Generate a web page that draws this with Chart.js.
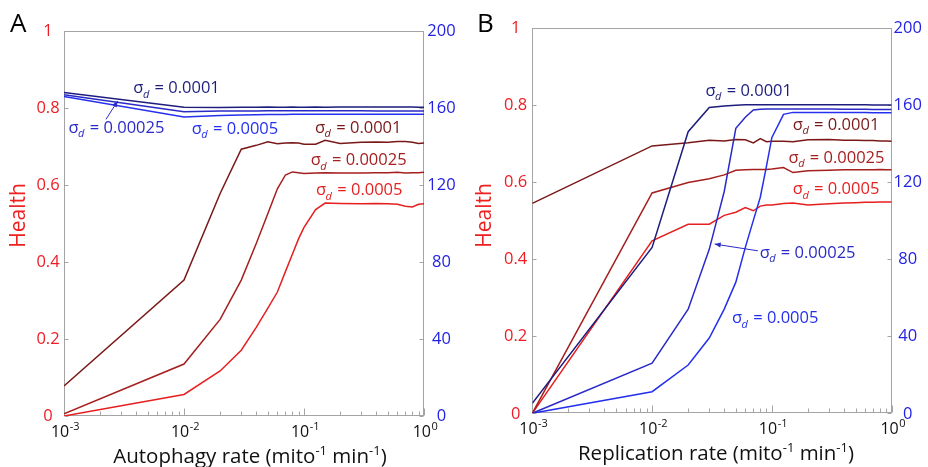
<!DOCTYPE html>
<html>
<head>
<meta charset="utf-8">
<script src="https://cdn.jsdelivr.net/npm/chart.js@4.4.1/dist/chart.umd.min.js"></script>
<style>
  html, body { margin: 0; padding: 0; background: #fff; }
  #wrap { position: relative; width: 928px; height: 467px; overflow: hidden; }
  .panel { position: absolute; top: 0; width: 464px; height: 467px; }
</style>
</head>
<body>
<div id="wrap">
  <div class="panel" style="left:0"><canvas id="panelA" width="464" height="467"></canvas></div>
  <div class="panel" style="left:464px"><canvas id="panelB" width="464" height="467"></canvas></div>
</div>
<script>
// Rates sampled along the x axis (mito^-1 min^-1)
const rates = [0.001, 0.01, 0.02, 0.03, 0.04, 0.05, 0.06, 0.07, 0.08, 0.09, 0.1,
               0.125, 0.15, 0.2, 0.3, 0.4, 0.5, 0.6, 0.7, 0.8, 0.9, 1.0];

// Panel A: health vs autophagy rate
const healthAuto_1e4  = [0.078, 0.353, 0.578, 0.693, 0.703, 0.712, 0.707, 0.709, 0.710, 0.709, 0.706,
                         0.706, 0.716, 0.708, 0.711, 0.712, 0.711, 0.713, 0.713, 0.711, 0.708, 0.709];
const healthAuto_25e5 = [0.006, 0.135, 0.251, 0.353, 0.448, 0.526, 0.590, 0.626, 0.634, 0.632, 0.630,
                         0.631, 0.632, 0.631, 0.631, 0.632, 0.632, 0.633, 0.631, 0.632, 0.632, 0.633];
const healthAuto_5e4  = [0.000, 0.056, 0.117, 0.171, 0.230, 0.280, 0.322, 0.375, 0.420, 0.460, 0.490,
                         0.536, 0.553, 0.552, 0.551, 0.552, 0.551, 0.550, 0.545, 0.543, 0.550, 0.551];
// Panel A: mitochondria count vs autophagy rate
const mitoAuto_1e4  = [168.0, 160.4, 160.3, 160.4, 160.4, 160.5, 160.4, 160.4, 160.5, 160.4, 160.4,
                       160.5, 160.4, 160.5, 160.5, 160.5, 160.5, 160.5, 160.5, 160.5, 160.4, 160.4];
const mitoAuto_25e5 = [166.9, 158.1, 158.4, 158.5, 158.5, 158.6, 158.6, 158.6, 158.6, 158.6, 158.6,
                       158.6, 158.6, 158.6, 158.6, 158.5, 158.5, 158.5, 158.5, 158.5, 158.5, 158.5];
const mitoAuto_5e4  = [166.0, 155.3, 156.1, 156.4, 156.5, 156.6, 156.6, 156.6, 156.7, 156.7, 156.7,
                       156.7, 156.7, 156.7, 156.7, 156.7, 156.7, 156.7, 156.7, 156.7, 156.7, 156.7];

// Panel B: health vs replication rate
const healthRepl_1e4  = [0.544, 0.693, 0.701, 0.708, 0.706, 0.710, 0.709, 0.701, 0.712, 0.704, 0.705,
                         0.705, 0.704, 0.709, 0.710, 0.708, 0.708, 0.707, 0.707, 0.706, 0.706, 0.705];
const healthRepl_25e5 = [0.000, 0.571, 0.598, 0.608, 0.618, 0.630, 0.631, 0.632, 0.632, 0.632, 0.633,
                         0.637, 0.624, 0.629, 0.630, 0.631, 0.631, 0.631, 0.631, 0.632, 0.631, 0.631];
const healthRepl_5e4  = [0.000, 0.447, 0.490, 0.490, 0.513, 0.521, 0.533, 0.525, 0.537, 0.540, 0.540,
                         0.544, 0.545, 0.540, 0.543, 0.545, 0.546, 0.547, 0.547, 0.548, 0.548, 0.548];
// Panel B: mitochondria count vs replication rate
const mitoRepl_1e4  = [5.2, 86.0, 146.0, 158.5, 159.3, 159.7, 159.9, 160.0, 160.0, 160.0, 160.0,
                       160.0, 160.0, 160.0, 160.0, 160.0, 159.9, 159.9, 159.8, 159.8, 159.8, 159.8];
const mitoRepl_25e5 = [0.0, 26.0, 54.0, 85.0, 115.0, 147.7, 153.5, 157.2, 157.6, 157.8, 157.8,
                       157.8, 157.8, 157.7, 157.7, 157.6, 157.6, 157.6, 157.5, 157.5, 157.5, 157.5];
const mitoRepl_5e4  = [0.0, 11.2, 25.0, 39.0, 54.0, 68.0, 86.0, 100.0, 112.0, 128.0, 143.0,
                       155.0, 156.0, 156.0, 156.0, 155.9, 155.9, 155.9, 155.8, 155.8, 155.8, 155.8];

// Axis ticks
const healthTicks = [0, 0.2, 0.4, 0.6, 0.8, 1];
const healthTickLabels = ['0', '0.2', '0.4', '0.6', '0.8', '1'];
const mitoTicks = [0, 40, 80, 120, 160, 200];
const mitoTickLabels = ['0', '40', '80', '120', '160', '200'];
const decadeExponents = [-3, -2, -1, 0];
const decadeLabels = ['-3', '-2', '-1', '0'];

const FONT = '"Open Sans", "Noto Sans", "DejaVu Sans", sans-serif';
const COL = {
  navy: '#1d1d7e', blueMid: '#2a2ac8', blue: '#2430ee',
  darkRed: '#7a1818', redMid: '#a61f1f', red: '#e61f1f',
  tickRed: '#ee1c24', tickBlue: '#2222e4', frame: '#a4a4a4'
};

function series(values, axis, color) {
  return {
    data: rates.map((r, i) => ({ x: r, y: values[i] })),
    yAxisID: axis, borderColor: color, borderWidth: 1.5,
    pointRadius: 0, tension: 0, fill: false
  };
}

function drawSigma(ctx, x, y, value, color) {
  // y is the vertical middle of the digits
  const base = y + 6;
  ctx.fillStyle = color;
  ctx.textAlign = 'left';
  ctx.textBaseline = 'alphabetic';
  ctx.font = `16.5px ${FONT}`;
  ctx.fillText('\u03c3', x, base);
  let cx = x + ctx.measureText('\u03c3').width - 0.5;
  ctx.font = `italic 11px ${FONT}`;
  ctx.fillText('d', cx, base + 4.5);
  cx += ctx.measureText('d').width + 1;
  ctx.font = `16.5px ${FONT}`;
  ctx.fillText(' = ' + value, cx, base);
}

function drawArrow(ctx, x0, y0, x1, y1, color) {
  ctx.strokeStyle = color; ctx.fillStyle = color; ctx.lineWidth = 1;
  ctx.beginPath(); ctx.moveTo(x0, y0); ctx.lineTo(x1, y1); ctx.stroke();
  const ang = Math.atan2(y1 - y0, x1 - x0), L = 6, W = 2.6;
  ctx.beginPath();
  ctx.moveTo(x1, y1);
  ctx.lineTo(x1 - L * Math.cos(ang) + W * Math.sin(ang), y1 - L * Math.sin(ang) - W * Math.cos(ang));
  ctx.lineTo(x1 - L * Math.cos(ang) - W * Math.sin(ang), y1 - L * Math.sin(ang) + W * Math.cos(ang));
  ctx.closePath(); ctx.fill();
}

// Draws the frame, inward ticks, tick labels, titles and the sigma annotations
const decorPlugin = {
  id: 'decor',
  beforeDatasetsDraw(chart) {
    const { ctx, chartArea: a, scales } = chart;
    ctx.save();
    ctx.strokeStyle = COL.frame; ctx.lineWidth = 1;
    const L = Math.round(a.left) + 0.5, R = Math.round(a.right) - 0.5;
    const T = Math.round(a.top) + 0.5, B = Math.round(a.bottom) - 0.5;
    ctx.strokeRect(L, T, R - L, B - T);
    ctx.beginPath();
    // x ticks: decades and minor ticks, pointing up into the plot
    for (let d = -3; d <= 0; d++) {
      const xp = Math.round(scales.x.getPixelForValue(Math.pow(10, d))) + 0.5;
      ctx.moveTo(xp, B); ctx.lineTo(xp, B - 7);
      if (d < 0) {
        for (let m = 2; m <= 9; m++) {
          const xm = Math.round(scales.x.getPixelForValue(m * Math.pow(10, d))) + 0.5;
          ctx.moveTo(xm, B); ctx.lineTo(xm, B - 4);
        }
      }
    }
    healthTicks.forEach(v => {
      const yp = Math.round(scales.h.getPixelForValue(v)) + 0.5;
      ctx.moveTo(L, yp); ctx.lineTo(L + 4, yp);
    });
    mitoTicks.forEach(v => {
      const yp = Math.round(scales.m.getPixelForValue(v)) + 0.5;
      ctx.moveTo(R, yp); ctx.lineTo(R - 4, yp);
    });
    ctx.stroke();
    ctx.restore();
  },
  afterDraw(chart) {
    const { ctx, chartArea: a, scales } = chart;
    const p = chart.options.plugins.decor;
    ctx.save();
    ctx.textBaseline = 'middle';
    ctx.textAlign = 'center';
    ctx.font = `16.5px ${FONT}`;
    // left (health) tick labels
    ctx.fillStyle = COL.tickRed;
    healthTicks.forEach((v, i) => {
      ctx.fillText(healthTickLabels[i], a.left - p.leftLabelGap, scales.h.getPixelForValue(v) + 0.5);
    });
    // right (mitochondria) tick labels
    ctx.fillStyle = COL.tickBlue;
    mitoTicks.forEach((v, i) => {
      ctx.fillText(mitoTickLabels[i], a.right + p.rightLabelGap, scales.m.getPixelForValue(v) + 0.5);
    });
    // x tick labels 10^n
    ctx.fillStyle = '#111';
    ctx.textBaseline = 'alphabetic';
    ctx.textAlign = 'left';
    decadeExponents.forEach((e, i) => {
      const xp = scales.x.getPixelForValue(Math.pow(10, e));
      ctx.font = `16px ${FONT}`;
      const w1 = ctx.measureText('10').width;
      ctx.font = `11px ${FONT}`;
      const w2 = ctx.measureText(decadeLabels[i]).width;
      const x0 = xp - (w1 + w2) / 2 + 1;
      ctx.font = `16px ${FONT}`;
      ctx.fillText('10', x0, a.bottom + 20.5);
      ctx.font = `11px ${FONT}`;
      ctx.fillText(decadeLabels[i], x0 + w1 + 0.5, a.bottom + 14);
    });
    // x axis title with superscripts
    const parts = [[p.xTitle + ' (mito', 0], ['-1', 1], [' min', 0], ['-1', 1], [')', 0]];
    const fontFor = s => s ? `13px ${FONT}` : `20.5px ${FONT}`;
    let total = 0;
    parts.forEach(([t, s]) => { ctx.font = fontFor(s); total += ctx.measureText(t).width; });
    let tx = (a.left + a.right) / 2 + p.titleShift - total / 2;
    parts.forEach(([t, s]) => {
      ctx.font = fontFor(s);
      ctx.fillText(t, tx, a.bottom + p.titleDrop - (s ? 8 : 0));
      tx += ctx.measureText(t).width;
    });
    // y axis title
    ctx.save();
    ctx.translate(p.healthX, 215.5);
    ctx.rotate(-Math.PI / 2);
    ctx.textAlign = 'center';
    ctx.textBaseline = 'middle';
    ctx.fillStyle = '#ee2020';
    ctx.font = `21px ${FONT}`;
    ctx.fillText('Health', 0, 0);
    ctx.restore();
    // panel letter
    ctx.fillStyle = '#000';
    ctx.font = `26px ${FONT}`;
    ctx.textAlign = 'left';
    ctx.fillText(p.letter, p.letterX, 31.5);
    // annotations placed in data coordinates
    p.notes.forEach(n => {
      const xp = scales.x.getPixelForValue(n.x);
      const yp = scales.h.getPixelForValue(n.y);
      drawSigma(ctx, xp, yp, n.text, n.color);
    });
    p.arrows.forEach(r => {
      drawArrow(ctx, scales.x.getPixelForValue(r.from[0]), scales.h.getPixelForValue(r.from[1]),
                scales.x.getPixelForValue(r.to[0]), scales.h.getPixelForValue(r.to[1]), r.color);
    });
    ctx.restore();
  }
};

function makePanel(id, padding, datasets, decor) {
  return new Chart(document.getElementById(id), {
    type: 'line',
    data: { datasets },
    options: {
      responsive: false, animation: false, devicePixelRatio: 1,
      layout: { padding },
      scales: {
        x: { type: 'logarithmic', min: 0.001, max: 1, display: false },
        h: { type: 'linear', position: 'left', min: 0, max: 1, display: false },
        m: { type: 'linear', position: 'right', min: 0, max: 200, display: false }
      },
      plugins: { legend: { display: false }, tooltip: { enabled: false }, decor }
    },
    plugins: [decorPlugin]
  });
}

makePanel('panelA', { left: 64, right: 40, top: 31, bottom: 51 }, [
  series(mitoAuto_1e4, 'm', COL.navy),
  series(mitoAuto_25e5, 'm', COL.blueMid),
  series(mitoAuto_5e4, 'm', COL.blue),
  series(healthAuto_1e4, 'h', COL.darkRed),
  series(healthAuto_25e5, 'h', COL.redMid),
  series(healthAuto_5e4, 'h', COL.red)
], {
  letter: 'A', letterX: 10, healthX: 19, xTitle: 'Autophagy rate',
  titleShift: 6, titleDrop: 47, leftLabelGap: 16, rightLabelGap: 17.5,
  notes: [
    { x: 0.00378, y: 0.854, text: '0.0001', color: COL.navy },
    { x: 0.00109, y: 0.751, text: '0.00025', color: COL.blueMid },
    { x: 0.0116, y: 0.749, text: '0.0005', color: COL.blue },
    { x: 0.1235, y: 0.751, text: '0.0001', color: COL.darkRed },
    { x: 0.1137, y: 0.667, text: '0.00025', color: COL.redMid },
    { x: 0.1259, y: 0.589, text: '0.0005', color: COL.red }
  ],
  arrows: [{ from: [0.00224, 0.7706], to: [0.00280, 0.8182], color: COL.blueMid }]
});

makePanel('panelB', { left: 68.3, right: 36.3, top: 27.5, bottom: 53.7 }, [
  series(mitoRepl_1e4, 'm', COL.navy),
  series(mitoRepl_25e5, 'm', COL.blueMid),
  series(mitoRepl_5e4, 'm', COL.blue),
  series(healthRepl_1e4, 'h', COL.darkRed),
  series(healthRepl_25e5, 'h', COL.redMid),
  series(healthRepl_5e4, 'h', COL.red)
], {
  letter: 'B', letterX: 13, healthX: 21.5, xTitle: 'Replication rate',
  titleShift: 4, titleDrop: 46.5, leftLabelGap: 16.6, rightLabelGap: 16,
  notes: [
    { x: 0.0279, y: 0.839, text: '0.0001', color: COL.navy },
    { x: 0.1496, y: 0.751, text: '0.0001', color: COL.darkRed },
    { x: 0.1377, y: 0.665, text: '0.00025', color: COL.redMid },
    { x: 0.1496, y: 0.583, text: '0.0005', color: COL.red },
    { x: 0.0790, y: 0.419, text: '0.00025', color: COL.blueMid },
    { x: 0.0464, y: 0.249, text: '0.0005', color: COL.blue }
  ],
  arrows: [{ from: [0.0764, 0.4212], to: [0.0333, 0.4386], color: COL.blueMid }]
});
</script>
</body>
</html>
